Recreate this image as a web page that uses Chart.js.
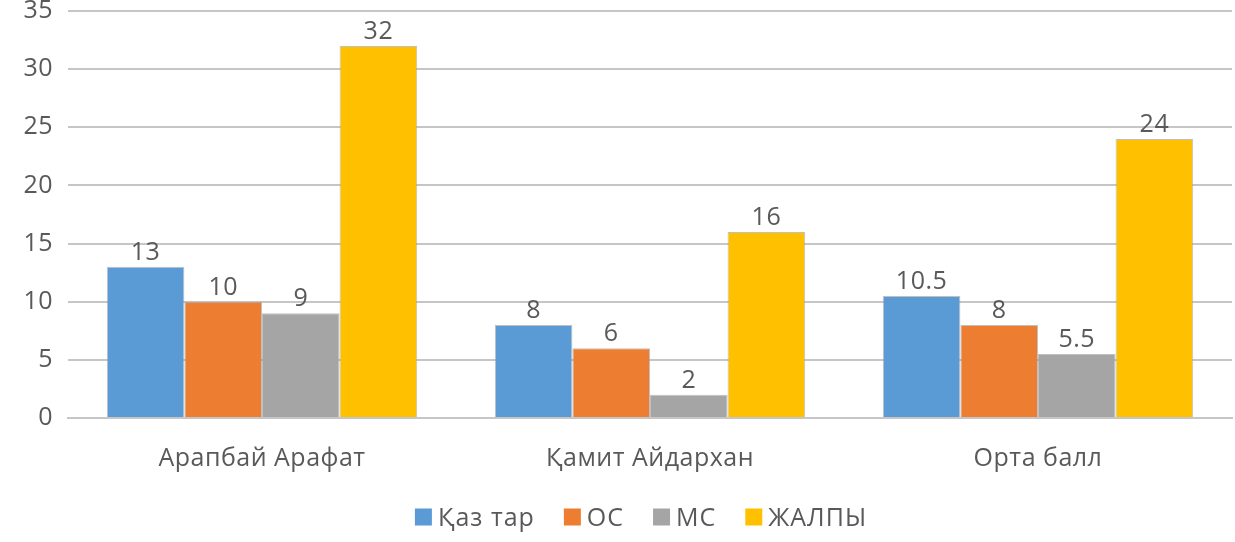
<!DOCTYPE html>
<html>
<head>
<meta charset="utf-8">
<script src="https://cdn.jsdelivr.net/npm/chart.js@4/dist/chart.umd.min.js"></script>
<style>
    html, body { margin: 0; padding: 0; background: #fff; }
    #wrap { position: relative; width: 1235px; height: 542px; }
</style>
</head>
<body>
<div id="wrap"><canvas id="scoreChart"></canvas></div>
<script>
// Categories and series
const categories = ['Арапбай Арафат', 'Қамит Айдархан', 'Орта балл'];
const seriesNames = ['Қаз тар', 'ОС', 'МС', 'ЖАЛПЫ'];
const kazTar = [13, 8, 10.5];
const osScores = [10, 6, 8];
const msScores = [9, 2, 5.5];
const totalScores = [32, 16, 24];
const yTicks = [0, 5, 10, 15, 20, 25, 30, 35];

const colors = ['#5b9bd5', '#ed7d31', '#a5a5a5', '#ffc000'];
const textColor = '#595959';
const fontFamily = '"Open Sans", "Noto Sans", sans-serif';
const fontSize = 25;

// Slightly wider text spacing, applied before the first measurement
const textSpacing = {
    id: 'textSpacing',
    beforeInit(chart) { chart.ctx.letterSpacing = '0.5px'; },
    beforeDraw(chart) { chart.ctx.letterSpacing = '0.5px'; }
};

// Draw value labels above each bar
const valueLabels = {
    id: 'valueLabels',
    afterDatasetsDraw(chart) {
        const ctx = chart.ctx;
        ctx.save();
        ctx.font = fontSize + 'px ' + fontFamily;
        ctx.fillStyle = textColor;
        ctx.textAlign = 'center';
        ctx.textBaseline = 'alphabetic';
        chart.data.datasets.forEach((ds, i) => {
            const meta = chart.getDatasetMeta(i);
            meta.data.forEach((bar, j) => {
                ctx.fillText(String(ds.data[j]), bar.x, bar.y - 7);
            });
        });
        ctx.restore();
    }
};

// Legend row under the axis: small square, then the series name
const bottomLegend = {
    id: 'bottomLegend',
    afterDraw(chart) {
        const ctx = chart.ctx;
        const box = 17, gap = 6, spacing = 29;
        const cy = 517;
        ctx.save();
        ctx.letterSpacing = '1px';
        ctx.font = fontSize + 'px ' + fontFamily;
        const widths = chart.data.datasets.map(ds => ctx.measureText(ds.label).width);
        const total = widths.reduce((s, w) => s + box + gap + w, 0) + spacing * (widths.length - 1);
        let x = 641 - total / 2;
        ctx.textBaseline = 'middle';
        ctx.textAlign = 'left';
        chart.data.datasets.forEach((ds, i) => {
            ctx.fillStyle = ds.backgroundColor;
            ctx.fillRect(x, cy - box / 2, box, box);
            ctx.fillStyle = textColor;
            ctx.fillText(ds.label, x + box + gap, cy + 2);
            x += box + gap + widths[i] + spacing;
        });
        ctx.restore();
    }
};

const allSeries = [kazTar, osScores, msScores, totalScores];

new Chart(document.getElementById('scoreChart'), {
    type: 'bar',
    data: {
        labels: categories,
        datasets: allSeries.map((vals, i) => ({
            label: seriesNames[i],
            data: vals,
            backgroundColor: colors[i],
            borderColor: 'rgba(150,150,150,0.6)',
            borderWidth: 1,
            categoryPercentage: 0.8,
            barPercentage: 1.0
        }))
    },
    options: {
        responsive: true,
        maintainAspectRatio: false,
        animation: false,
        layout: { padding: { top: 11, right: 3, left: 0, bottom: 64 } },
        plugins: {
            tooltip: { enabled: false },
            legend: { display: false }
        },
        scales: {
            y: {
                min: 0,
                max: 35,
                afterBuildTicks(scale) {
                    scale.ticks = yTicks.map(v => ({ value: v }));
                },
                afterFit(scale) {
                    scale.width = 68;
                    scale.paddingTop = 0;
                    scale.paddingBottom = 0;
                },
                border: { display: false },
                grid: {
                    color: '#c6c6c6',
                    lineWidth: 2,
                    drawTicks: false
                },
                ticks: {
                    color: textColor,
                    font: { size: fontSize, family: fontFamily },
                    padding: 15
                }
            },
            x: {
                grid: { display: false },
                border: { display: true, color: '#c6c6c6', width: 2 },
                afterFit(scale) { scale.height = 60; },
                ticks: {
                    color: textColor,
                    font: { size: fontSize, family: fontFamily },
                    padding: 18,
                    maxRotation: 0
                }
            }
        }
    },
    plugins: [textSpacing, valueLabels, bottomLegend]
});
</script>
</body>
</html>
